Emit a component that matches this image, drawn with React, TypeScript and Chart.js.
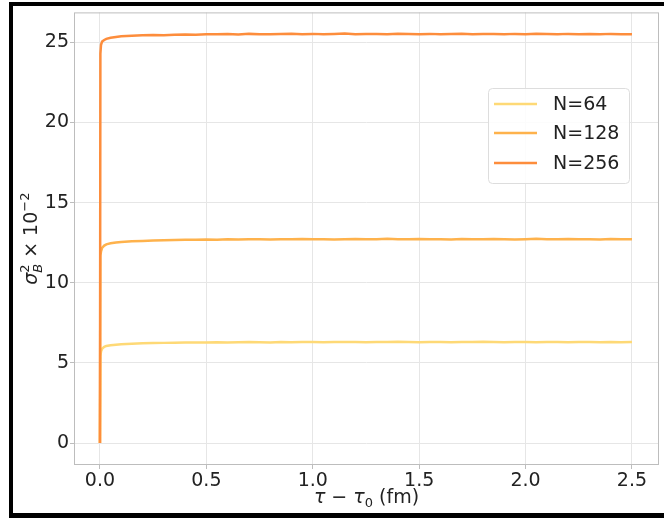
import React, { useEffect, useRef } from "react";
import { Chart, registerables } from "chart.js";

Chart.register(...registerables);

// tau - tau0 (fm)
const tau = [
  0, 0.002, 0.005, 0.01, 0.02, 0.03, 0.05, 0.075, 0.1, 0.15, 0.2, 0.25, 0.3,
  0.35, 0.4, 0.45, 0.5, 0.55, 0.6, 0.65, 0.7, 0.75, 0.8, 0.85,
  0.9, 0.95, 1.0, 1.05, 1.1, 1.15, 1.2, 1.25, 1.3, 1.35, 1.4,
  1.45, 1.5, 1.55, 1.6, 1.65, 1.7, 1.75, 1.8, 1.85, 1.9, 1.95,
  2.0, 2.05, 2.1, 2.15, 2.2, 2.25, 2.3, 2.35, 2.4, 2.45, 2.5,
];

const n64 = [
  0, 5.45, 5.7, 5.88, 6.0, 6.06, 6.1, 6.14, 6.17, 6.2, 6.22, 6.24, 6.25,
  6.26, 6.27, 6.28, 6.27, 6.29, 6.28, 6.29, 6.30, 6.29, 6.28, 6.30,
  6.29, 6.31, 6.30, 6.29, 6.30, 6.31, 6.30, 6.29, 6.31, 6.30, 6.32,
  6.30, 6.29, 6.31, 6.30, 6.29, 6.31, 6.30, 6.32, 6.30, 6.29, 6.31,
  6.30, 6.29, 6.31, 6.30, 6.29, 6.30, 6.31, 6.29, 6.30, 6.29, 6.30,
];

const n128 = [
  0, 11.7, 11.95, 12.18, 12.32, 12.4, 12.46, 12.51, 12.55, 12.59, 12.61, 12.63, 12.65,
  12.67, 12.68, 12.69, 12.70, 12.69, 12.71, 12.70, 12.72, 12.71, 12.70, 12.72,
  12.71, 12.73, 12.71, 12.72, 12.70, 12.72, 12.73, 12.71, 12.72, 12.74, 12.71,
  12.72, 12.73, 12.71, 12.72, 12.70, 12.73, 12.72, 12.71, 12.73, 12.72, 12.70,
  12.72, 12.74, 12.71, 12.72, 12.73, 12.71, 12.72, 12.70, 12.73, 12.72, 12.71,
];

const n256 = [
  0, 24.3, 24.85, 25.05, 25.15, 25.22, 25.29, 25.34, 25.38, 25.42, 25.44, 25.46, 25.45,
  25.47, 25.49, 25.48, 25.51, 25.50, 25.52, 25.49, 25.53, 25.51, 25.50, 25.52,
  25.54, 25.51, 25.53, 25.50, 25.52, 25.55, 25.51, 25.53, 25.52, 25.50, 25.54,
  25.52, 25.51, 25.53, 25.50, 25.52, 25.54, 25.51, 25.53, 25.52, 25.50, 25.53,
  25.51, 25.54, 25.52, 25.50, 25.53, 25.51, 25.52, 25.50, 25.53, 25.51, 25.50,
];

const seriesLabels = ["N=64", "N=128", "N=256"];
const seriesColors = ["#fed976", "#feb24c", "#fd8d3c"];
const xTicks = [0, 0.5, 1.0, 1.5, 2.0, 2.5];
const yTicks = [0, 5, 10, 15, 20, 25];

const FONT = "DejaVu Sans";
const TEXT = "#222222";

const toPts = (ys: number[]) => tau.map((t, i) => ({ x: t, y: ys[i] }));

type Part = { t: string; size: number; italic?: boolean; dy?: number; stackSub?: string };

function drawParts(ctx: CanvasRenderingContext2D, parts: Part[], cx: number, baseY: number) {
  const widthOf = (p: Part) => {
    ctx.font = `${p.italic ? "italic " : ""}${p.size}px "${FONT}"`;
    let w = ctx.measureText(p.t).width;
    if (p.stackSub) {
      ctx.font = `italic ${p.size}px "${FONT}"`;
      w = Math.max(w, ctx.measureText(p.stackSub).width);
    }
    return w;
  };
  const total = parts.reduce((s, p) => s + widthOf(p), 0);
  let x = cx - total / 2;
  ctx.fillStyle = TEXT;
  ctx.textBaseline = "alphabetic";
  ctx.textAlign = "left";
  for (const p of parts) {
    const w = widthOf(p);
    ctx.font = `${p.italic ? "italic " : ""}${p.size}px "${FONT}"`;
    ctx.fillText(p.t, x, baseY + (p.dy || 0));
    if (p.stackSub) {
      ctx.font = `italic ${p.size}px "${FONT}"`;
      ctx.fillText(p.stackSub, x, baseY + 5);
    }
    x += w;
  }
}

const decorPlugin = {
  id: "decor",
  afterDraw(chart: any) {
    const ctx: CanvasRenderingContext2D = chart.ctx;
    const a = chart.chartArea;
    ctx.save();
    // full frame (spines)
    ctx.strokeStyle = "#bdbdbd";
    ctx.lineWidth = 1;
    ctx.strokeRect(a.left + 0.5, a.top + 0.5, a.right - a.left - 1, a.bottom - a.top - 1);

    // legend
    const bx = 488, by = 88, bw = 141, bh = 95;
    ctx.beginPath();
    (ctx as any).roundRect(bx + 0.5, by + 0.5, bw, bh, 4);
    ctx.fillStyle = "rgba(255,255,255,0.85)";
    ctx.fill();
    ctx.strokeStyle = "#dddddd";
    ctx.stroke();
    const rows = [104, 133, 163];
    chart.data.datasets.forEach((ds: any, i: number) => {
      ctx.strokeStyle = ds.borderColor;
      ctx.lineWidth = 2.5;
      ctx.beginPath();
      ctx.moveTo(494, rows[i]);
      ctx.lineTo(537, rows[i]);
      ctx.stroke();
      ctx.fillStyle = TEXT;
      ctx.font = `19px "${FONT}"`;
      ctx.textBaseline = "middle";
      ctx.textAlign = "left";
      ctx.fillText(ds.label, 553, rows[i] + 1);
    });

    // x axis title: tau - tau_0 (fm)
    drawParts(
      ctx,
      [
        { t: "τ", size: 19, italic: true },
        { t: " − ", size: 19 },
        { t: "τ", size: 19, italic: true },
        { t: "0", size: 13, dy: 4 },
        { t: " (fm)", size: 19 },
      ],
      (a.left + a.right) / 2,
      503
    );

    // y axis title: sigma_B^2 x 10^-2
    ctx.save();
    ctx.translate(37, (a.top + a.bottom) / 2);
    ctx.rotate(-Math.PI / 2);
    drawParts(
      ctx,
      [
        { t: "σ", size: 19, italic: true },
        { t: "2", size: 13, dy: -8, stackSub: "B" },
        { t: " × 10", size: 19 },
        { t: "−2", size: 13, dy: -8 },
      ],
      0,
      0
    );
    ctx.restore();

    // outer black frame
    ctx.fillStyle = "#000000";
    ctx.fillRect(9, 2, 4, 516);
    ctx.fillRect(9, 2, 655, 4);
    ctx.fillRect(9, 513, 655, 5);
    ctx.restore();
  },
};

export default function App() {
  const ref = useRef<HTMLCanvasElement>(null);
  useEffect(() => {
    document.body.style.margin = "0";
    const canvas = ref.current!;
    const series = [n64, n128, n256];
    const chart = new Chart(canvas, {
      type: "line",
      data: {
        datasets: series.map((s, i) => ({
          label: seriesLabels[i],
          data: toPts(s),
          borderColor: seriesColors[i],
          backgroundColor: seriesColors[i],
          borderWidth: 2.5,
          pointRadius: 0,
          tension: 0,
          fill: false,
          order: 2 - i,
        })),
      },
      options: {
        animation: false,
        responsive: false,
        layout: { padding: { left: 0, top: 12, right: 5, bottom: 0 } },
        plugins: { legend: { display: false }, tooltip: { enabled: false } },
        scales: {
          x: {
            type: "linear",
            min: -0.122,
            max: 2.627,
            afterFit: (s: any) => {
              s.height = 53;
            },
            afterBuildTicks: (s: any) => {
              s.ticks = xTicks.map((v) => ({ value: v }));
            },
            ticks: {
              font: { family: FONT, size: 19 },
              color: TEXT,
              padding: 1,
              maxRotation: 0,
              callback: (v: any) => Number(v).toFixed(1),
            },
            grid: { color: "#e6e6e6", tickColor: "#bdbdbd", tickLength: 4, lineWidth: 1 },
            border: { display: false },
          },
          y: {
            type: "linear",
            min: -1.37,
            max: 26.87,
            afterFit: (s: any) => {
              s.width = 74;
            },
            afterBuildTicks: (s: any) => {
              s.ticks = yTicks.map((v) => ({ value: v }));
            },
            ticks: {
              font: { family: FONT, size: 19 },
              color: TEXT,
              padding: 1,
              callback: (v: any) => String(v),
            },
            grid: { color: "#e6e6e6", tickColor: "#bdbdbd", tickLength: 4, lineWidth: 1 },
            border: { display: false },
          },
        },
      },
      plugins: [decorPlugin],
    } as any);
    return () => chart.destroy();
  }, []);
  return (
    <div style={{ width: 664, height: 518, background: "#ffffff" }}>
      <canvas ref={ref} width={664} height={518} style={{ display: "block" }} />
    </div>
  );
}
